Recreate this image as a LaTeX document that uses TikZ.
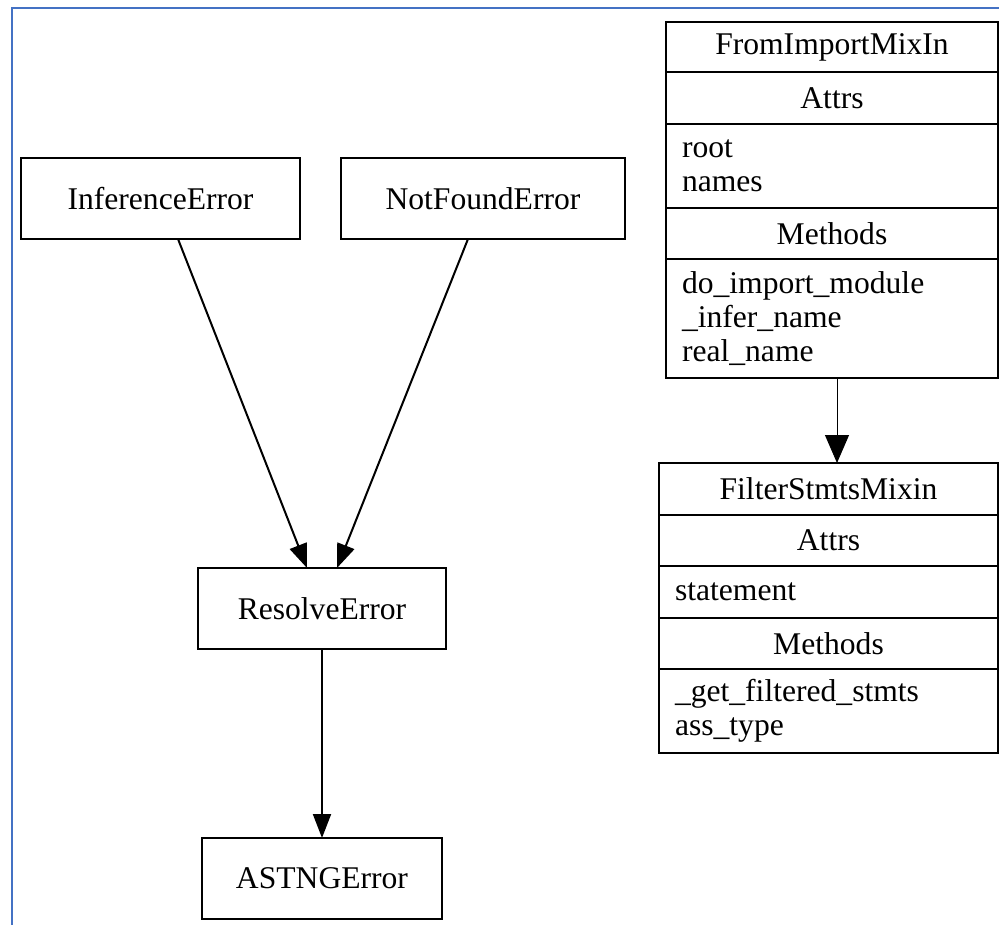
\documentclass[tikz,border=0pt]{standalone}
\usepackage{fontspec}
\setmainfont{Liberation Serif}
\usetikzlibrary{arrows.meta,positioning}
\definecolor{frameblue}{RGB}{68,114,196}

\tikzset{
    cls/.style={draw, line width=2pt, inner sep=0pt, outer sep=0pt, font=\fontsize{31.6}{34}\selectfont},
    errbox/.style={cls, minimum height=81pt},
    part/.style={cls, minimum width=#1},
    items/.style={cls, text width=#1, align=left, inner xsep=16pt},
    inh/.style={line width=2pt, -{Triangle[length=24pt,width=18pt]}},
    inhthin/.style={line width=1pt, -{Triangle[length=28pt,width=24pt]}}
}

\begin{document}
\begin{tikzpicture}[x=1pt,y=-1pt]
    \useasboundingbox[fill=white] (0,0) rectangle (999,925);
    \draw[frameblue, line width=2pt] (12,925) -- (12,8) -- (999,8);

    % error classes
    \node[errbox, minimum width=279pt] (infer) at (160.5,198.5) {InferenceError};
    \node[errbox, minimum width=284pt] (notfound) at (483,198.5) {NotFoundError};
    \node[errbox, minimum width=248pt] (resolve) at (322,608.5) {ResolveError};
    \node[errbox, minimum width=240pt] (astng) at (322,878.5) {ASTNGError};

    \draw[inh] ([xshift=17.5pt]infer.south) -- ([xshift=-15pt]resolve.north);
    \draw[inh] ([xshift=-15pt]notfound.south) -- ([xshift=15pt]resolve.north);
    \draw[inh] (resolve) -- (astng);

    % FromImportMixIn
    \node[part=332pt, minimum height=50pt] (fim) at (832,47) {FromImportMixIn};
    \node[part=332pt, minimum height=52pt, below=0pt of fim] (fimattrs) {Attrs};
    \node[items=300pt, minimum height=84pt, below=0pt of fimattrs] (fimattrlist) {root\\names};
    \node[part=332pt, minimum height=51pt, below=0pt of fimattrlist] (fimmeth) {Methods};
    \node[items=300pt, minimum height=119pt, below=0pt of fimmeth] (fimmethlist) {do\_import\_module\\\_infer\_name\\real\_name};

    % FilterStmtsMixin
    \node[part=339pt, minimum height=52pt] (fsm) at (828.5,489) {FilterStmtsMixin};
    \node[part=339pt, minimum height=51pt, below=0pt of fsm] (fsmattrs) {Attrs};
    \node[items=307pt, minimum height=52pt, below=0pt of fsmattrs] (fsmattrlist) {statement};
    \node[part=339pt, minimum height=51pt, below=0pt of fsmattrlist] (fsmmeth) {Methods};
    \node[items=307pt, minimum height=84pt, below=0pt of fsmmeth] (fsmmethlist) {\_get\_filtered\_stmts\\ass\_type};

    \draw[inhthin] ([xshift=5pt]fimmethlist.south) -- ([xshift=8.5pt]fsm.north);
\end{tikzpicture}
\end{document}
